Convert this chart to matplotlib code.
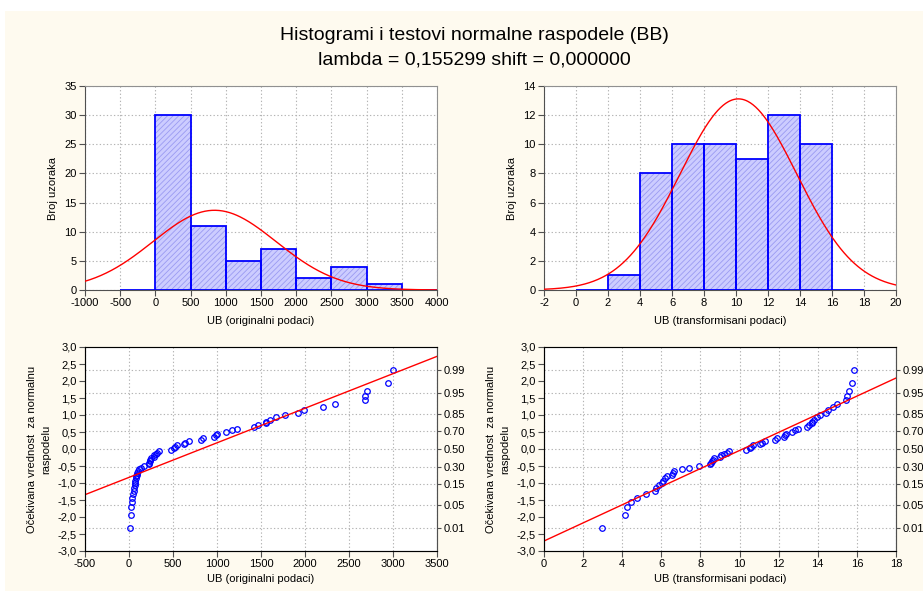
import numpy as np
import matplotlib
matplotlib.use('Agg')
import matplotlib.pyplot as plt
from matplotlib.patches import Rectangle

plt.rcParams['font.family'] = ['Liberation Sans', 'DejaVu Sans']
plt.rcParams['axes.unicode_minus'] = False
plt.rcParams['hatch.linewidth'] = 0.6

# histogram of original data (bins of 500)
orig_edges = [-500, 0, 500, 1000, 1500, 2000, 2500, 3000, 3500, 4000]
orig_counts = [0, 30, 11, 5, 7, 2, 4, 1, 0]
orig_mean, orig_sd = 840, 875

# histogram of transformed data (bins of 2)
trans_edges = [0, 2, 4, 6, 8, 10, 12, 14, 16, 18]
trans_counts = [0, 1, 8, 10, 10, 9, 12, 10, 0]
trans_mean, trans_sd = 10.15, 3.65

# sorted original values (left normal plot)
ub_orig = [12, 25, 26, 30, 35, 46, 59, 60, 65, 70,
           73, 77, 81, 90, 94, 97, 118, 141, 176, 226,
           231, 235, 241, 247, 279, 282, 303, 322, 340, 475,
           511, 526, 540, 620, 641, 687, 813, 845, 968, 985,
           1002, 1101, 1170, 1226, 1416, 1462, 1554, 1559, 1605, 1667,
           1769, 1924, 1985, 2203, 2336, 2677, 2680, 2704, 2939, 3000]

# sorted transformed values (right normal plot)
ub_trans = [2.99, 4.16, 4.26, 4.47, 4.76, 5.23, 5.69, 5.73, 5.88, 6.02,
            6.09, 6.21, 6.31, 6.52, 6.60, 6.67, 7.06, 7.44, 7.93, 8.50,
            8.55, 8.59, 8.65, 8.71, 9.00, 9.03, 9.20, 9.35, 9.48, 10.33,
            10.52, 10.60, 10.67, 11.04, 11.13, 11.32, 11.79, 11.90, 12.29, 12.34,
            12.39, 12.67, 12.85, 12.99, 13.43, 13.53, 13.72, 13.73, 13.82, 13.94,
            14.13, 14.40, 14.50, 14.80, 14.98, 15.44, 15.48, 15.58, 15.75, 15.87]

expected_normal = [-2.3125, -1.9272, -1.7103, -1.5536, -1.4274, -1.3202, -1.2261, -1.1427, -1.0663, -0.9956,
                   -0.9294, -0.8670, -0.8081, -0.7515, -0.6977, -0.6454, -0.5950, -0.5461, -0.4983, -0.4519,
                   -0.4062, -0.3614, -0.3173, -0.2738, -0.2308, -0.1880, -0.1460, -0.1042, -0.0625, -0.0208,
                   0.0208, 0.0625, 0.1042, 0.1460, 0.1880, 0.2308, 0.2738, 0.3173, 0.3614, 0.4062,
                   0.4519, 0.4983, 0.5461, 0.5950, 0.6454, 0.6977, 0.7515, 0.8081, 0.8670, 0.9294,
                   0.9956, 1.0663, 1.1427, 1.2261, 1.3202, 1.4274, 1.5536, 1.7103, 1.9272, 2.3125]

# fitted lines in the normal plots (intercept, slope)
orig_line = (-0.835, 0.001017)
trans_line = (-2.706, 0.2663)

prob_labels = ['0.01', '0.05', '0.15', '0.30', '0.50', '0.70', '0.85', '0.95', '0.99']
prob_z = [-2.326, -1.645, -1.036, -0.524, 0.0, 0.524, 1.036, 1.645, 2.326]

BG = '#fefaef'
BLUE = '#0000ff'
RED = '#ff0000'
GRID = dict(color='#b4b4b4', linestyle=(0, (1.2, 2)), linewidth=0.8)

fig = plt.figure(figsize=(9.23, 5.91), dpi=100, facecolor=BG)
fig.patches.append(Rectangle((0, 1 - 11 / 591), 1, 11 / 591, transform=fig.transFigure,
                             facecolor='white', edgecolor='none', zorder=-1))
fig.patches.append(Rectangle((0, 0), 5 / 923, 1, transform=fig.transFigure,
                             facecolor='white', edgecolor='none', zorder=-1))

W, H = 352 / 923, 204 / 591
ax_h1 = fig.add_axes([85 / 923, 1 - 290 / 591, W, H])
ax_h2 = fig.add_axes([544 / 923, 1 - 290 / 591, W, H])
ax_q1 = fig.add_axes([85 / 923, 1 - 551 / 591, W, H])
ax_q2 = fig.add_axes([544 / 923, 1 - 551 / 591, W, H])

fig.text(0.514, 1 - 35 / 591, 'Histogrami i testovi normalne raspodele (BB)',
         ha='center', va='center', fontsize=14)
fig.text(0.514, 1 - 60 / 591, 'lambda = 0,155299 shift = 0,000000',
         ha='center', va='center', fontsize=14)


def style(ax):
    ax.set_facecolor('white')
    for s in ['left', 'bottom']:
        ax.spines[s].set_color('#505050')
    for s in ['top', 'right']:
        ax.spines[s].set_color('#909090')
    ax.tick_params(direction='out', length=4, width=0.8, labelsize=8, pad=2,
                   colors='#505050', labelcolor='black')
    ax.set_axisbelow(True)


def histogram(ax, edges, counts, mean, sd, xlim, xticks, ylim, yticks, xlabel):
    style(ax)
    left = edges[:-1]
    width = np.diff(edges)
    ax.bar(left, counts, width=width, align='edge', color='#ccccff',
           edgecolor='#9a9af2', hatch='//////', linewidth=0, zorder=2)
    ax.bar(left, counts, width=width, align='edge', fill=False,
           edgecolor=BLUE, linewidth=1.3, zorder=3)
    n = sum(counts)
    bw = edges[1] - edges[0]
    xs = np.linspace(xlim[0], xlim[1], 400)
    ys = n * bw / (sd * np.sqrt(2 * np.pi)) * np.exp(-0.5 * ((xs - mean) / sd) ** 2)
    ax.plot(xs, ys, color=RED, linewidth=1, zorder=4)
    ax.set_xlim(xlim)
    ax.set_ylim(ylim)
    ax.set_xticks(xticks)
    ax.set_yticks(yticks)
    ax.grid(True, **GRID)
    ax.set_ylabel('Broj uzoraka', fontsize=8)
    ax.yaxis.set_label_coords(-0.078, 0.5)
    ax.set_xlabel(xlabel, fontsize=8)
    ax.xaxis.set_label_coords(0.5, -0.125)


def normal_plot(ax, xs, zs, line, xlim, xticks, xlabel):
    style(ax)
    ax.plot(xs, zs, linestyle='none', marker='o', markersize=4, mfc='none',
            mec=BLUE, mew=0.9, zorder=3)
    lx = np.array(xlim)
    ax.plot(lx, line[0] + line[1] * lx, color=RED, linewidth=1, zorder=4)
    ax.set_xlim(xlim)
    ax.set_ylim(-3, 3)
    ax.set_xticks(xticks)
    yt = np.arange(-3, 3.01, 0.5)
    ax.set_yticks(yt)
    ax.set_yticklabels([f'{v:.1f}'.replace('.', ',') for v in yt])
    ax.grid(True, axis='x', **GRID)
    for z in prob_z:
        ax.axhline(z, zorder=0, **GRID)
    ax2 = ax.twinx()
    ax2.set_ylim(-3, 3)
    ax2.set_yticks(prob_z)
    ax2.set_yticklabels(prob_labels)
    ax2.tick_params(direction='out', length=3, width=0.8, labelsize=8, pad=1.5,
                    colors='#505050', labelcolor='black')
    ax2.spines['right'].set_color('#505050')
    ax.set_ylabel('Očekivana vrednost  za normalnu\nraspodelu', fontsize=8,
                  linespacing=1.5)
    ax.yaxis.set_label_coords(-0.097, 0.5)
    ax.set_xlabel(xlabel, fontsize=8)
    ax.xaxis.set_label_coords(0.5, -0.115)


histogram(ax_h1, orig_edges, orig_counts, orig_mean, orig_sd, (-1000, 4000),
          np.arange(-1000, 4001, 500), (0, 35), np.arange(0, 36, 5),
          'UB (originalni podaci)')
histogram(ax_h2, trans_edges, trans_counts, trans_mean, trans_sd, (-2, 20),
          np.arange(-2, 21, 2), (0, 14), np.arange(0, 15, 2),
          'UB (transformisani podaci)')
normal_plot(ax_q1, ub_orig, expected_normal, orig_line, (-500, 3500),
            np.arange(-500, 3501, 500), 'UB (originalni podaci)')
normal_plot(ax_q2, ub_trans, expected_normal, trans_line, (0, 18),
            np.arange(0, 19, 2), 'UB (transformisani podaci)')

fig.savefig('out.png', dpi=100, facecolor=BG)
